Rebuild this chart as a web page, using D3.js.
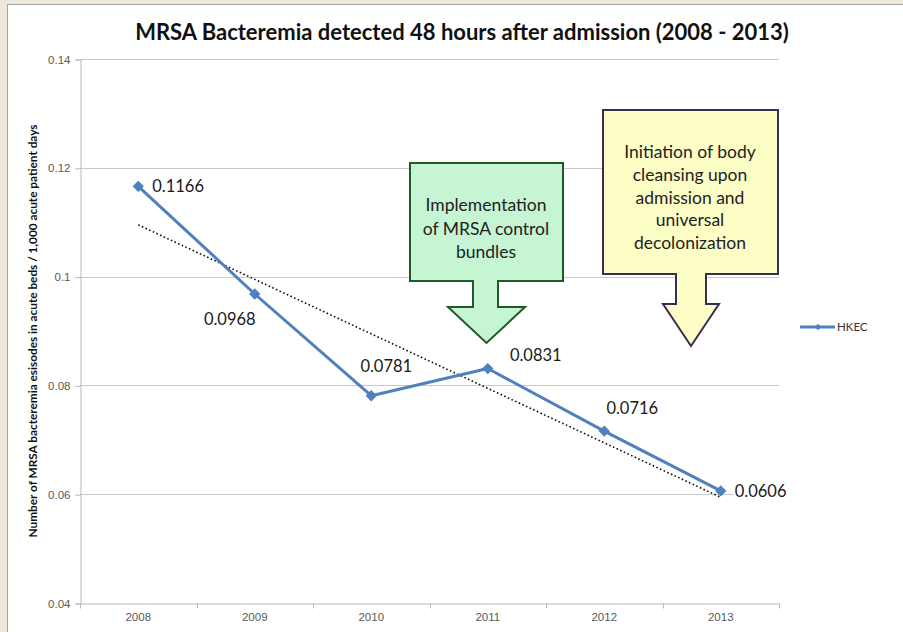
<!DOCTYPE html>
<html>
<head>
<meta charset="utf-8">
<script src="https://cdn.jsdelivr.net/npm/d3@7"></script>
<style>
  html, body { margin: 0; padding: 0; background: #efe8dc; overflow: hidden; }
  svg { display: block; font-family: Lato, "Open Sans", sans-serif; }
</style>
</head>
<body>
<svg></svg>
<script>
// chart data
const years = ['2008', '2009', '2010', '2011', '2012', '2013'];
const rates = [0.1166, 0.0968, 0.0781, 0.0831, 0.0716, 0.0606];
const yTicks = [0.04, 0.06, 0.08, 0.1, 0.12, 0.14];
const seriesName = 'HKEC';
// where each data label sits around its point
const labelPlace = [[14, 0, 'start'], [-25, 25, 'middle'], [15, -30, 'middle'],
    [48, -13, 'middle'], [28, -23, 'middle'], [14, 0, 'start']];

const svg = d3.select('svg')
    .attr('width', 903)
    .attr('height', 632);

// plot area edges
const plotL = 80,
    plotR = 779,
    plotT = 59,
    plotB = 603,
    lineColor = '#4f81bd';

// white panel
svg.append('rect')
    .attr('x', 7.5).attr('y', 4.5)
    .attr('width', 1000).attr('height', 1000)
    .attr('fill', '#fff')
    .attr('stroke', '#a6a6a6');

const x = d3.scaleBand().domain(years).range([plotL, plotR]);
const y = d3.scaleLinear().domain([0.04, 0.14]).range([plotB, plotT]);
const cx = d => x(d) + x.bandwidth() / 2;

// gridlines
svg.append('g').selectAll('line')
    .data(yTicks.slice(1))
    .join('line')
    .attr('x1', plotL).attr('x2', plotR)
    .attr('y1', d => Math.round(y(d)) + 0.5).attr('y2', d => Math.round(y(d)) + 0.5)
    .attr('stroke', '#c8c8c8');

// y axis
const yAxis = svg.append('g')
    .attr('transform', `translate(${plotL + 0.5},0.5)`)
    .call(d3.axisLeft(y).tickValues(yTicks).tickFormat(d3.format('~g')).tickSizeOuter(0).tickSize(5).tickPadding(5));
yAxis.select('.domain').attr('stroke', '#b8b8b8');
yAxis.selectAll('.tick line').attr('stroke', '#b8b8b8');
yAxis.selectAll('text').attr('fill', '#595959').style('font-size', '11.5px');

// x axis (ticks between categories like Excel)
const xAxis = svg.append('g')
    .attr('transform', `translate(0,${plotB + 0.5})`)
    .call(d3.axisBottom(x).tickSize(0).tickPadding(9));
xAxis.select('.domain').attr('stroke', '#b8b8b8');
xAxis.selectAll('text').attr('fill', '#595959').style('font-size', '11.5px');
xAxis.append('g').selectAll('line')
    .data(years.map(d => x(d)).concat([plotR]))
    .join('line')
    .attr('x1', d => Math.round(d) + 0.5).attr('x2', d => Math.round(d) + 0.5)
    .attr('y1', 0).attr('y2', 5)
    .attr('stroke', '#b8b8b8');

// callout arrows
function callout(bx0, bx1, by0, by1, sx0, sx1, sy1, hx0, hx1, tipY, fill, stroke) {
    const tip = (hx0 + hx1) / 2;
    const pts = [[bx0, by0], [bx1, by0], [bx1, by1], [sx1, by1], [sx1, sy1], [hx1, sy1],
        [tip, tipY], [hx0, sy1], [sx0, sy1], [sx0, by1], [bx0, by1]];
    svg.append('path')
        .attr('d', d3.line()(pts) + 'Z')
        .attr('fill', fill)
        .attr('stroke', stroke)
        .attr('stroke-width', 2)
        .attr('stroke-linejoin', 'miter');
}
function calloutText(lines, cxPos, y0, step) {
    svg.append('text')
        .attr('text-anchor', 'middle')
        .attr('fill', '#222')
        .style('font-size', '17.5px')
        .selectAll('tspan')
        .data(lines)
        .join('tspan')
        .attr('x', cxPos)
        .attr('y', (d, i) => y0 + i * step)
        .text(d => d);
}
callout(410, 563, 163, 281, 473, 498, 307, 448, 525, 343, '#c5f5d3', '#1e5a28');
calloutText(['Implementation', 'of MRSA control', 'bundles'], 486, 211, 23.5);
callout(603, 778, 110, 274, 676, 706, 304, 663, 719, 346, '#fdfdc6', '#3b2d4f');
calloutText(['Initiation of body', 'cleansing upon', 'admission and', 'universal', 'decolonization'], 690, 158, 22.8);

// linear trendline (least squares on the series)
const n = rates.length,
    mx = (n - 1) / 2,
    my = d3.mean(rates),
    slope = d3.sum(rates, (v, i) => (i - mx) * (v - my)) / d3.sum(rates, (v, i) => (i - mx) * (i - mx)),
    icpt = my - slope * mx;
svg.append('line')
    .attr('x1', cx(years[0])).attr('y1', y(icpt))
    .attr('x2', cx(years[n - 1])).attr('y2', y(icpt + slope * (n - 1)))
    .attr('stroke', '#111')
    .attr('stroke-width', 1.6)
    .attr('stroke-dasharray', '1.6 2.4');

// series line
svg.append('path')
    .datum(rates)
    .attr('d', d3.line().x((d, i) => cx(years[i])).y(d => y(d)))
    .attr('fill', 'none')
    .attr('stroke', lineColor)
    .attr('stroke-width', 3)
    .attr('stroke-linejoin', 'round');

const diamond = d3.symbol().type(d3.symbolSquare).size(64);
svg.append('g').selectAll('path')
    .data(rates)
    .join('path')
    .attr('d', diamond)
    .attr('transform', (d, i) => `translate(${cx(years[i])},${y(d)}) rotate(45)`)
    .attr('fill', lineColor);

// data labels
const lbl = svg.append('g').selectAll('g')
    .data(rates)
    .join('g')
    .attr('transform', (d, i) => `translate(${cx(years[i]) + labelPlace[i][0]},${y(d) + labelPlace[i][1]})`);
lbl.append('text')
    .attr('text-anchor', (d, i) => labelPlace[i][2])
    .attr('dy', '0.35em')
    .attr('fill', '#1a1a1a')
    .style('font-size', '16.5px')
    .text(d => d3.format('.4f')(d))
    .each(function () {
        const b = this.getBBox();
        d3.select(this.parentNode).insert('rect', 'text')
            .attr('x', b.x - 1).attr('y', b.y + 3)
            .attr('width', b.width + 2).attr('height', b.height - 6)
            .attr('fill', '#fff');
    });

// legend
const leg = svg.append('g').attr('transform', 'translate(800,327)');
leg.append('line').attr('x1', 0).attr('x2', 35)
    .attr('stroke', lineColor).attr('stroke-width', 3);
leg.append('path').attr('d', d3.symbol().type(d3.symbolSquare).size(20))
    .attr('transform', 'translate(18,0) rotate(45)').attr('fill', lineColor);
leg.append('text').attr('x', 37).attr('dy', '0.35em')
    .attr('fill', '#333').style('font-size', '11.5px').text(seriesName);

// title
svg.append('text')
    .attr('x', 462).attr('y', 40)
    .attr('text-anchor', 'middle')
    .attr('fill', '#111')
    .style('font-size', '22px')
    .style('font-weight', 'bold')
    .text('MRSA Bacteremia detected 48 hours after admission (2008 - 2013)');

// y axis title
svg.append('text')
    .attr('transform', 'translate(37,331) rotate(-90)')
    .attr('text-anchor', 'middle')
    .attr('fill', '#111')
    .style('font-size', '11.8px')
    .style('font-weight', 'bold')
    .text('Number of MRSA bacteremia esisodes in acute beds / 1,000 acute patient days');
</script>
</body>
</html>
